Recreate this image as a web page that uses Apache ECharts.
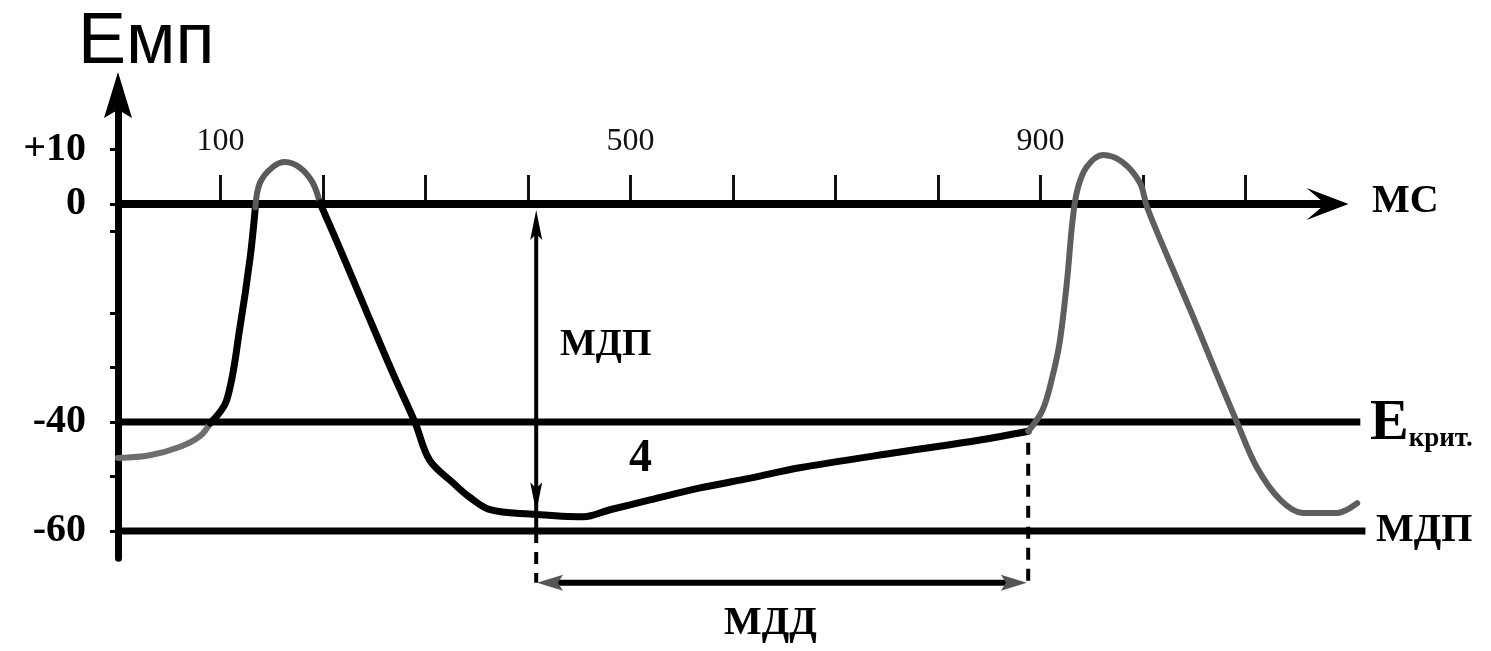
<!DOCTYPE html>
<html><head><meta charset="utf-8">
<script src="https://cdn.jsdelivr.net/npm/echarts@6/dist/echarts.min.js"></script>
<style>html,body{margin:0;padding:0;background:#fff;}#c{width:1491px;height:651px;}</style>
</head><body><div id="c"></div>
<script>
// ---- data (time in ms, membrane potential in mV) ----
const xTickValues = [100, 200, 300, 400, 500, 600, 700, 800, 900, 1000, 1100];
const xLabelValues = [100, 500, 900];
const yTickValues = [10, 0, -5, -20, -30, -40, -50, -60];
const yLabelValues = [10, 0, -40, -60];

const restStart = [[0,-46.6],[31,-46.1],[60,-44.6],[80,-42.6],[90,-40.2]];
const ap1Upstroke = [[90,-40.2],[106,-36],[119,-22.6],[129,-9.7],[134,-0.6]];
const ap1Peak = [[134,-0.6],[138.5,3.9],[151,6.8],[163,7.7],[178,6.6],[190,3.9],[197,0.2]];
const ap1Repolarization = [[197,0.2],[217,-8.4],[243,-20],[268,-31],[290,-40.2],[304,-47],[327,-51.2],[343,-53.8],[363,-56.1],[402,-56.9],[454,-57.4],[480,-56.1],[519,-54.3],[568,-52.1],[617,-50.3],[665,-48.4],[763,-45.5],[841,-43.3],[888,-41.7]];
const ap2 = [[888,-41.7],[902,-37.8],[912,-31.4],[919,-25],[926,-13.9],[931,-3.5],[936,2.6],[945,6.8],[961,9],[980,7.7],[997,3.9],[1004,-0.6],[1026,-10.6],[1049,-20.7],[1071,-30.8],[1092,-40.2],[1111,-48.3],[1134,-54.3],[1156,-56.7],[1189,-56.7],[1209,-54.9]];

const timeAxisEnd = 1180;    // end of the time arrow
const criticalLevel = -40;   // Е крит.
const mdpLevel = -60;        // МДП
const levelLineEnds = [1212, 1217];

const mdpMarkMs = 408;
const mdpArrowEnds = [-3.85, -53.8];
const mddLevel = -69.5;
const mddArrowEnds = [421.5, 874];
const criticalMarkMs = 888;
const criticalMarkTop = -43.8;

// ---- chart ----
const chart = echarts.init(document.getElementById('c'), null, {renderer: 'canvas'});
const SERIF = '"Liberation Serif", "DejaVu Serif", serif';
const PX_PER_MV = 5.45, PX_PER_MS = 1.025;
const X_MAX = 1220, Y_MIN = -65, Y_MAX = 20;

const curve = (data, color, width) => ({
  type: 'line', data, smooth: 0.35, symbol: 'none', clip: false, silent: true,
  lineStyle: {color, width, cap: 'round', join: 'round'}, z: 5
});
const seg = (data, color, width, type) => ({
  type: 'line', data, symbol: 'none', clip: false, silent: true,
  lineStyle: {color, width, type: type || 'solid'}, z: 3
});
const arrowPath = (w, h, notch) => 'path://M' + (w/2) + ',0 L' + w + ',' + h + ' L' + (w/2) + ',' + (h*notch) + ' L0,' + h + ' Z';

const option = {
  animation: false,
  backgroundColor: '#fff',
  grid: {left: 118, top: 95, width: X_MAX * PX_PER_MS, height: (Y_MAX - Y_MIN) * PX_PER_MV, containLabel: false, outerBoundsMode: 'none'},
  xAxis: {
    type: 'value', min: 0, max: X_MAX, position: 'top', offset: -(Y_MAX * PX_PER_MV),
    axisLine: {show: false, onZero: false},
    axisTick: {show: true, length: 29, customValues: xTickValues, lineStyle: {color: '#111', width: 3}},
    axisLabel: {margin: 46, customValues: xLabelValues, fontFamily: SERIF, fontSize: 32, color: '#111'},
    splitLine: {show: false}
  },
  yAxis: {
    type: 'value', min: Y_MIN, max: Y_MAX,
    axisLine: {show: true, lineStyle: {color: '#000', width: 7}, symbol: ['none', arrowPath(28, 46, 0.82)], symbolSize: [28, 46]},
    axisTick: {show: true, length: 8, customValues: yTickValues, lineStyle: {color: '#000', width: 3}},
    axisLabel: {customValues: yLabelValues, margin: 32, fontFamily: SERIF, fontSize: 40, fontWeight: 'bold', color: '#000',
      formatter: v => (v > 0 ? '+' + v : String(v))},
    splitLine: {show: false}
  },
  series: [
    // time axis line with chevron arrow
    {type: 'line', clip: false, silent: true, z: 3, lineStyle: {color: '#000', width: 8}, itemStyle: {color: '#000'},
      data: [
        {value: [0, 0], symbol: 'none'},
        {value: [timeAxisEnd, 0], symbol: arrowPath(32, 42, 0.55), symbolSize: [32, 42], symbolRotate: -90}
      ]},
    seg([[0, criticalLevel], [levelLineEnds[0], criticalLevel]], '#000', 7),
    seg([[0, mdpLevel], [levelLineEnds[1], mdpLevel]], '#000', 7),
    curve(restStart, '#6e6e6e', 6),
    curve(ap1Upstroke, '#000', 7),
    curve(ap1Peak, '#5a5a5a', 6),
    curve(ap1Repolarization, '#000', 7),
    curve(ap2, '#5e5e5e', 6),
    // МДП vertical double arrow
    {type: 'line', clip: false, silent: true, z: 4, lineStyle: {color: '#000', width: 4},
      itemStyle: {color: '#000'},
      data: [
        {value: [mdpMarkMs, mdpArrowEnds[0]], symbol: arrowPath(12, 30, 0.8), symbolSize: [12, 30], symbolRotate: 0},
        {value: [mdpMarkMs, mdpArrowEnds[1]], symbol: arrowPath(12, 30, 0.8), symbolSize: [12, 30], symbolRotate: 180}
      ]},
    seg([[mdpMarkMs, mdpArrowEnds[1]], [mdpMarkMs, mdpLevel]], '#000', 4),
    seg([[mdpMarkMs, mdpLevel], [mdpMarkMs, mddLevel]], '#000', 4, [12, 9]),
    seg([[criticalMarkMs, criticalMarkTop], [criticalMarkMs, mddLevel]], '#000', 4, [12, 9]),
    // МДД horizontal double arrow
    {type: 'line', clip: false, silent: true, z: 4, lineStyle: {color: '#000', width: 6},
      itemStyle: {color: '#555'},
      data: [
        {value: [mddArrowEnds[0], mddLevel], symbol: arrowPath(16, 26, 0.8), symbolSize: [16, 26], symbolRotate: 90},
        {value: [mddArrowEnds[1], mddLevel], symbol: arrowPath(16, 26, 0.8), symbolSize: [16, 26], symbolRotate: -90}
      ]}
  ],
  graphic: [
    {type: 'text', x: 78, y: 43, style: {text: 'Емп', font: '72px "Liberation Sans", Arial, sans-serif', fill: '#000', textVerticalAlign: 'middle'}},
    {type: 'text', x: 1372, y: 202, style: {text: 'МС', font: 'bold 40px ' + SERIF, fill: '#000', textVerticalAlign: 'middle'}},
    {type: 'text', x: 560, y: 345, style: {text: 'МДП', font: 'bold 38px ' + SERIF, fill: '#000', textVerticalAlign: 'middle'}},
    {type: 'text', x: 629, y: 459, style: {text: '4', font: 'bold 46px ' + SERIF, fill: '#000', textVerticalAlign: 'middle'}},
    {type: 'text', x: 1370, y: 424, style: {
      text: '{e|Е}{s|крит.}', fill: '#000', textVerticalAlign: 'middle',
      rich: {e: {font: 'bold 58px ' + SERIF, fill: '#000', verticalAlign: 'bottom'},
             s: {font: 'bold 27px ' + SERIF, fill: '#000', verticalAlign: 'bottom'}}}},
    {type: 'text', x: 1376, y: 531, style: {text: 'МДП', font: 'bold 40px ' + SERIF, fill: '#000', textVerticalAlign: 'middle'}},
    {type: 'text', x: 724, y: 624, style: {text: 'МДД', font: 'bold 40px ' + SERIF, fill: '#000', textVerticalAlign: 'middle'}}
  ]
};
chart.setOption(option);
</script>
</body></html>
